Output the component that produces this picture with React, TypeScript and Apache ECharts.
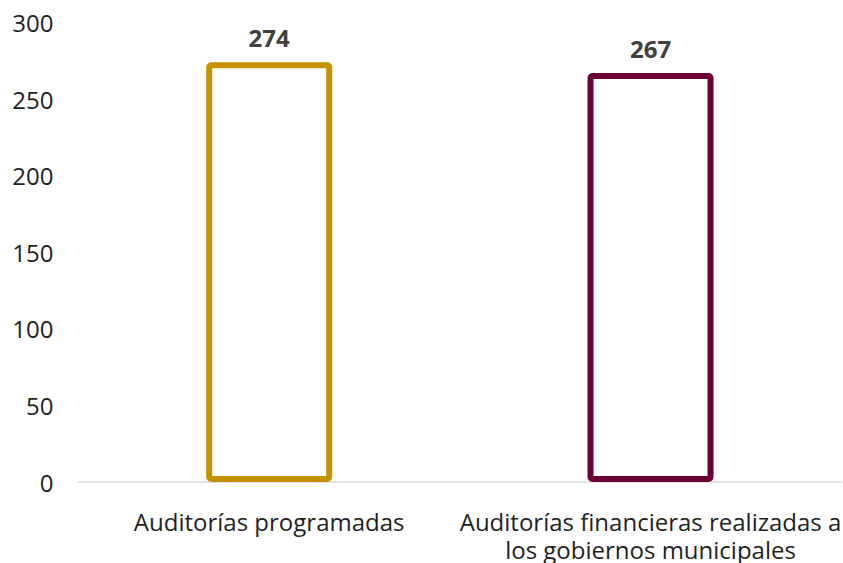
import React, { useEffect, useRef } from "react";
import * as echarts from "echarts";

const categories = [
  "Auditorías programadas",
  "Auditorías financieras realizadas a\nlos gobiernos municipales",
];
const values = [274, 267];
const colors = ["#C69300", "#6B0035"];
const yTicks = { min: 0, max: 300, interval: 50 };

export default function App() {
  const ref = useRef<HTMLDivElement>(null);
  useEffect(() => {
    if (!ref.current) return;
    const chart = echarts.init(ref.current, null, { renderer: "svg" });
    chart.setOption({
      animation: false,
      grid: { left: 78.5, right: -3.5, top: 22.5, bottom: 79, containLabel: false },
      xAxis: {
        type: "category",
        data: categories,
        axisLine: { show: true, lineStyle: { color: "#D9D9D9", width: 1.5 } },
        axisTick: { show: false },
        axisLabel: {
          interval: 0,
          color: "#1F1F1F",
          fontFamily: "Open Sans",
          fontSize: 24,
          lineHeight: 28,
          margin: 25,
        },
      },
      yAxis: {
        type: "value",
        min: yTicks.min,
        max: yTicks.max,
        interval: yTicks.interval,
        splitLine: { show: false },
        axisLine: { show: false },
        axisTick: { show: false },
        axisLabel: {
          color: "#1F1F1F",
          fontFamily: "Open Sans",
          fontSize: 24,
          margin: 25,
        },
      },
      series: [
        {
          type: "bar",
          barWidth: 126,
          data: values.map((v, i) => ({
            value: v,
            itemStyle: {
              color: "#fff",
              borderColor: colors[i],
              borderWidth: 6,
              borderRadius: 2,
            },
          })),
          label: {
            show: true,
            position: "top",
            distance: 13,
            color: "#404040",
            fontFamily: "Open Sans",
            fontWeight: "bold",
            fontSize: 24,
          },
        },
      ],
    });
    return () => chart.dispose();
  }, []);
  return <div ref={ref} style={{ width: 843, height: 563, position: "absolute", left: 0, top: 0 }} />;
}
